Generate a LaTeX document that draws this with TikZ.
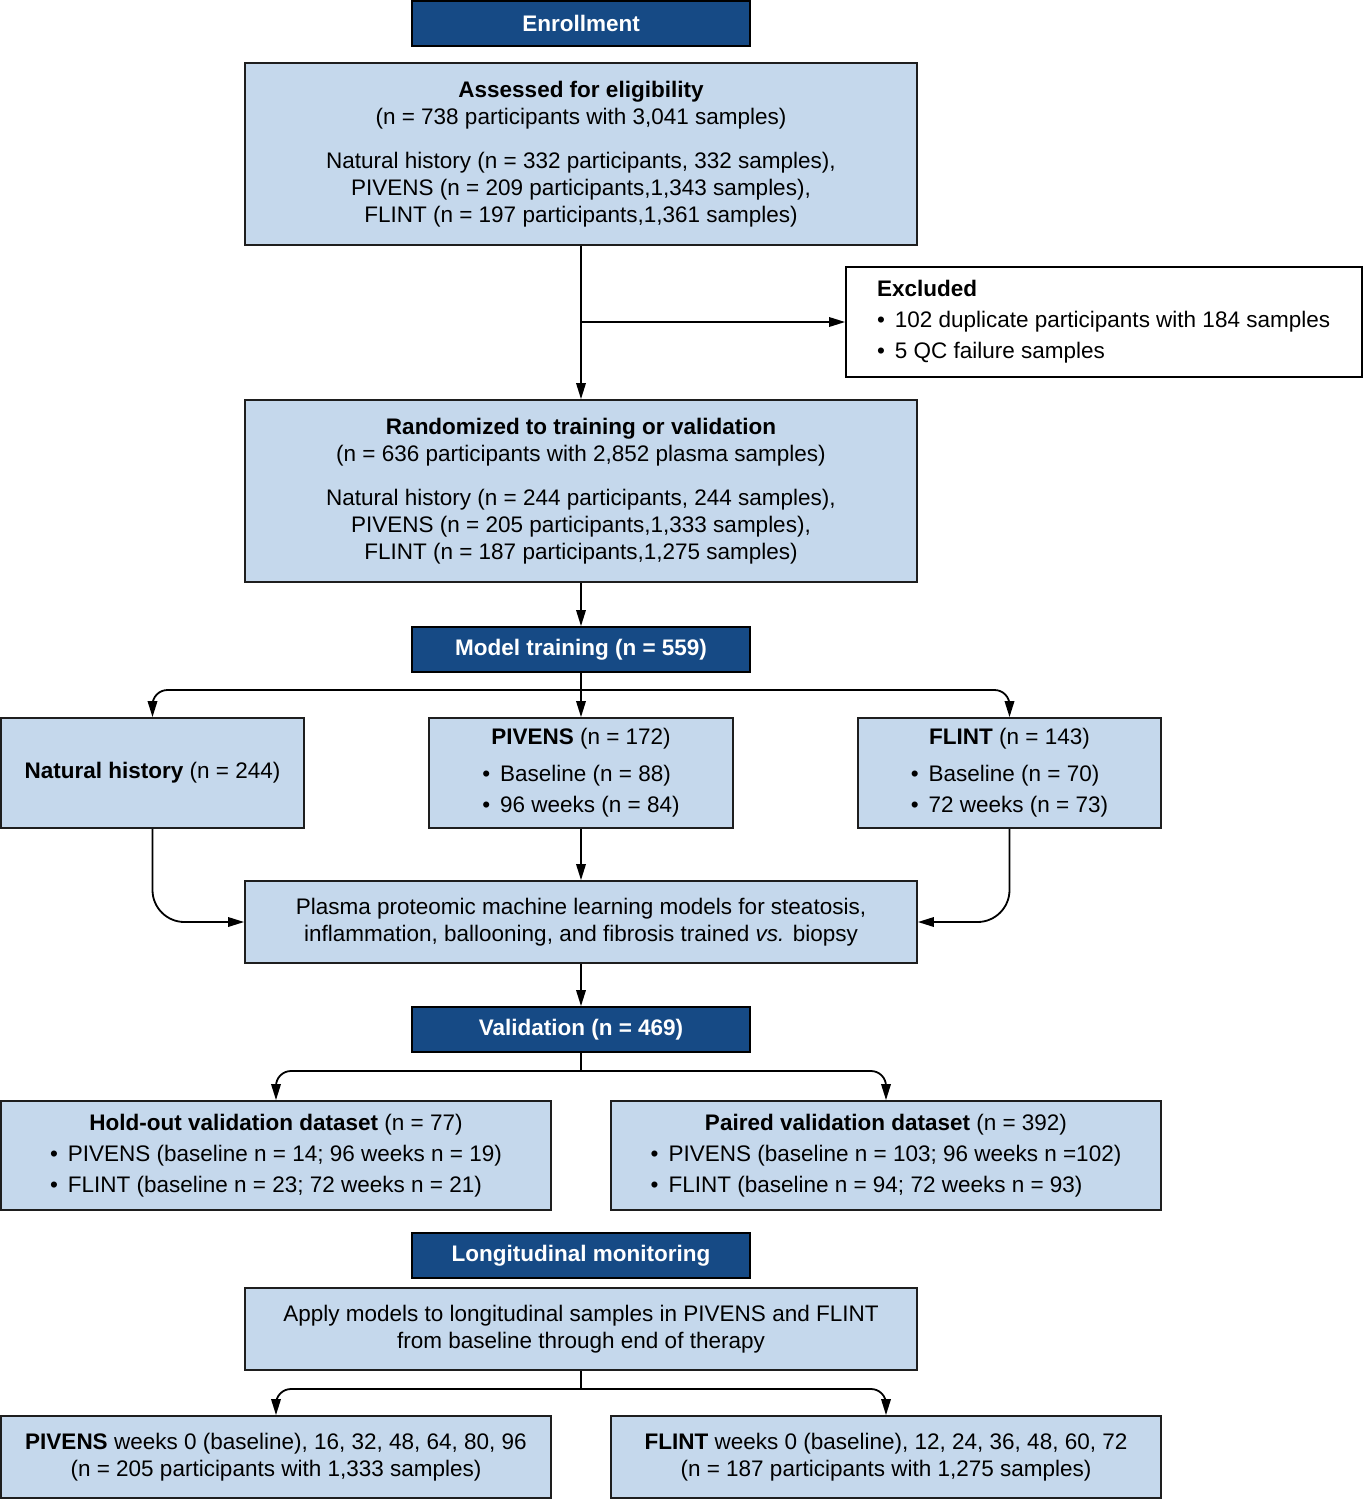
\documentclass[tikz,border=0pt]{standalone}
\usepackage{fontspec}
\usepackage{calc}
\setmainfont{Liberation Sans}
\usetikzlibrary{arrows.meta}
\definecolor{hdrblue}{RGB}{22,74,133}
\definecolor{boxblue}{RGB}{197,216,236}
\definecolor{edge}{RGB}{30,30,30}
\newcommand{\bitem}{•\hspace{10pt}}
% bullet line, left aligned in a box as wide as the widest line (#1)
\newcommand{\bl}[2]{\makebox[\widthof{\bitem #1}][l]{\bitem #2}}
\begin{document}
\begin{tikzpicture}[x=1pt,y=-1pt,
  font=\fontsize{22.5pt}{27pt}\selectfont,
  hdr/.style={draw=black, fill=hdrblue, text=white, font=\fontsize{22.5pt}{27pt}\selectfont\bfseries,
    minimum width=338pt, minimum height=45pt, inner sep=0pt, line width=1.8pt},
  bbox/.style={draw=edge, fill=boxblue, line width=1.8pt, inner sep=0pt, align=center, text=black},
  arr/.style={-{Triangle[length=16pt,width=9.5pt]}, line width=1.8pt, draw=black},
  link/.style={line width=1.8pt, draw=black}]
\useasboundingbox (0,0) rectangle (1363,1500);

% headers
\node[hdr] (enr) at (581,23.5) {Enrollment};
\node[hdr] (mt) at (581,649.5) {Model training (n = 559)};
\node[hdr] (val) at (581,1029.5) {Validation (n = 469)};
\node[hdr] (lm) at (581,1255.5) {Longitudinal monitoring};

% boxes
\node[bbox, minimum width=672pt, minimum height=182pt] (ass) at (581,154)
  {\textbf{Assessed for eligibility}\\(n = 738 participants with 3,041 samples)\\[17pt]
   Natural history (n = 332 participants, 332 samples),\\
   PIVENS (n = 209 participants,1,343 samples),\\
   FLINT (n = 197 participants,1,361 samples)};

\node[draw=black, fill=white, line width=1.8pt, inner sep=0pt, align=left,
  minimum width=516pt, minimum height=110pt] (exc) at (1104,322)
  {\makebox[454pt][l]{\textbf{Excluded}}\\[4pt]
   \makebox[454pt][l]{\bitem 102 duplicate participants with 184 samples}\\[4pt]
   \makebox[454pt][l]{\bitem 5 QC failure samples}};

\node[bbox, minimum width=672pt, minimum height=182pt] (ran) at (581,491)
  {\textbf{Randomized to training or validation}\\(n = 636 participants with 2,852 plasma samples)\\[17pt]
   Natural history (n = 244 participants, 244 samples),\\
   PIVENS (n = 205 participants,1,333 samples),\\
   FLINT (n = 187 participants,1,275 samples)};

\node[bbox, minimum width=303pt, minimum height=110pt] (nh) at (152.5,773)
  {\textbf{Natural history} (n = 244)};
\node[bbox, minimum width=304pt, minimum height=110pt] (piv) at (581,773)
  {\textbf{PIVENS} (n = 172)\\[10pt]
   \bl{96 weeks (n = 84)}{Baseline (n = 88)}\\[4pt]
   \bl{96 weeks (n = 84)}{96 weeks (n = 84)}};
\node[bbox, minimum width=303pt, minimum height=110pt] (fl) at (1009.5,773)
  {\textbf{FLINT} (n = 143)\\[10pt]
   \bl{72 weeks (n = 73)}{Baseline (n = 70)}\\[4pt]
   \bl{72 weeks (n = 73)}{72 weeks (n = 73)}};

\node[bbox, minimum width=672pt, minimum height=82pt] (pl) at (581,922)
  {Plasma proteomic machine learning models for steatosis,\\
   inflammation, ballooning, and fibrosis trained \textit{vs.} biopsy};

\node[bbox, minimum width=550pt, minimum height=109pt] (ho) at (276,1155.5)
  {\textbf{Hold-out validation dataset} (n = 77)\\[4pt]
   \bl{PIVENS (baseline n = 14; 96 weeks n = 19)}{PIVENS (baseline n = 14; 96 weeks n = 19)}\\[4pt]
   \bl{PIVENS (baseline n = 14; 96 weeks n = 19)}{FLINT (baseline n = 23; 72 weeks n = 21)}};
\node[bbox, minimum width=550pt, minimum height=109pt] (pa) at (886,1155.5)
  {\textbf{Paired validation dataset} (n = 392)\\[4pt]
   \bl{PIVENS (baseline n = 103; 96 weeks n =102)}{PIVENS (baseline n = 103; 96 weeks n =102)}\\[4pt]
   \bl{PIVENS (baseline n = 103; 96 weeks n =102)}{FLINT (baseline n = 94; 72 weeks n = 93)}};

\node[bbox, minimum width=672pt, minimum height=82pt] (ap) at (581,1329)
  {Apply models to longitudinal samples in PIVENS and FLINT\\
   from baseline through end of therapy};

\node[bbox, minimum width=550pt, minimum height=82pt] (pw) at (276,1457)
  {\textbf{PIVENS} weeks 0 (baseline), 16, 32, 48, 64, 80, 96\\
   (n = 205 participants with 1,333 samples)};
\node[bbox, minimum width=550pt, minimum height=82pt] (fw) at (886,1457)
  {\textbf{FLINT} weeks 0 (baseline), 12, 24, 36, 48, 60, 72\\
   (n = 187 participants with 1,275 samples)};

% junctions
\coordinate (j0) at (581,322);
\coordinate (j1) at (581,690);
\coordinate (j3) at (581,1071);
\coordinate (j4) at (581,1389);

% connectors
\draw[arr] (ass.south) -- (ran.north);
\draw[arr] (j0) -- (exc.west);
\draw[arr] (ran.south) -- (mt.north);
\draw[arr] (mt.south) -- (piv.north);
\draw[arr, rounded corners=15pt] (j1) -| (nh.north);
\draw[arr, rounded corners=15pt] (j1) -| (fl.north);
\draw[arr] (piv.south) -- (pl.north);
\draw[arr, rounded corners=32pt] (nh.south) |- (pl.west);
\draw[arr, rounded corners=32pt] (fl.south) |- (pl.east);
\draw[arr] (pl.south) -- (val.north);
\draw[link] (val.south) -- (j3);
\draw[arr, rounded corners=15pt] (j3) -| (ho.north);
\draw[arr, rounded corners=15pt] (j3) -| (pa.north);
\draw[link] (ap.south) -- (j4);
\draw[arr, rounded corners=15pt] (j4) -| (pw.north);
\draw[arr, rounded corners=15pt] (j4) -| (fw.north);
\end{tikzpicture}
\end{document}
